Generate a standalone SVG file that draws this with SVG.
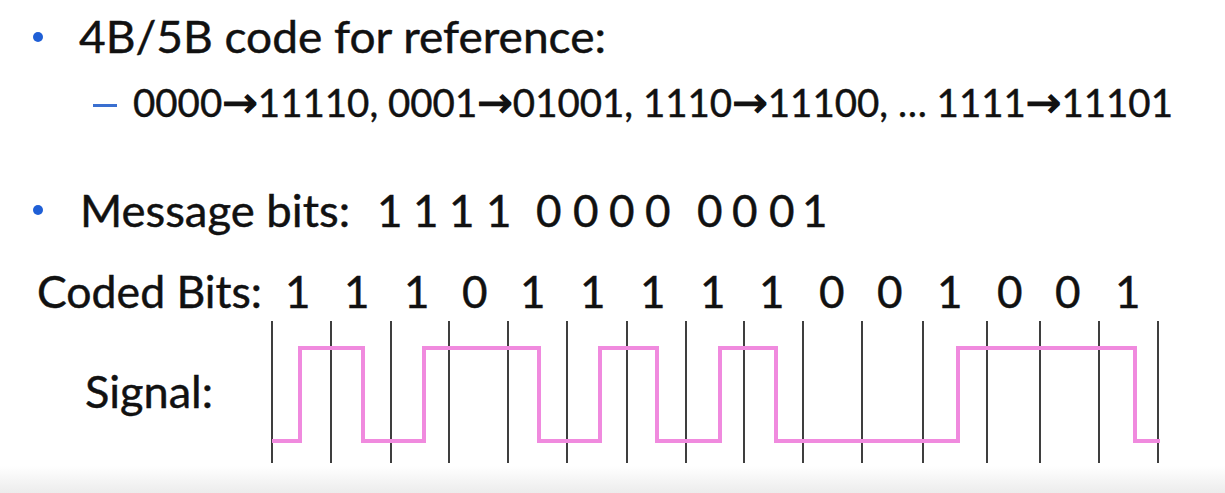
<svg xmlns="http://www.w3.org/2000/svg" width="1225" height="493" viewBox="0 0 1225 493">
<defs>
<linearGradient id="bottomFade" x1="0" y1="0" x2="0" y2="1">
<stop offset="0" stop-color="#ffffff"/>
<stop offset="1" stop-color="#ececec"/>
</linearGradient>
<style>
.t{font-family:Lato,"Liberation Sans","DejaVu Sans",sans-serif;fill:#111;stroke:#111;stroke-width:0.45;}
.big{font-size:44px;}
.mid{font-size:38px;}
.arr{font-family:"DejaVu Sans",sans-serif;font-size:42px;stroke-width:1.2;}
.bul{fill:#1f5fd6;}
.grid line{stroke:#2a2a2a;stroke-width:1.8;}
.sig{fill:none;stroke:#f08ade;stroke-width:4;stroke-linejoin:miter;}
</style>
</defs>
<rect width="1225" height="493" fill="#ffffff"/>
<rect x="0" y="466" width="1225" height="27" fill="url(#bottomFade)"/>

<g id="bullet1">
<circle class="bul" cx="38" cy="37" r="5"/>
<text class="t big" x="79" y="53" textLength="527" lengthAdjust="spacingAndGlyphs">4B/5B code for reference:</text>
</g>
<g id="subbullet">
<rect x="93" y="104" width="24" height="3" fill="#3a6fd0"/>
<text class="t mid" x="133" y="117" textLength="1040" lengthAdjust="spacingAndGlyphs">0000<tspan class="arr">→</tspan>11110, 0001<tspan class="arr">→</tspan>01001, 1110<tspan class="arr">→</tspan>11100, … 1111<tspan class="arr">→</tspan>11101</text>
</g>
<g id="bullet2">
<circle class="bul" cx="38" cy="210" r="5"/>
<text class="t big" y="227"><tspan x="80" textLength="270" lengthAdjust="spacingAndGlyphs">Message bits:</tspan> <tspan x="377">1</tspan> <tspan x="413">1</tspan> <tspan x="449">1</tspan> <tspan x="486">1</tspan>  <tspan x="536">0</tspan> <tspan x="573">0</tspan> <tspan x="609">0</tspan> <tspan x="645">0</tspan>  <tspan x="697">0</tspan> <tspan x="732">0</tspan> <tspan x="769">0</tspan> <tspan x="802">1</tspan></text>
</g>
<g id="coded">
<text class="t big" y="308"><tspan x="37" textLength="225" lengthAdjust="spacingAndGlyphs">Coded Bits:</tspan> <tspan x="285">1</tspan> <tspan x="344">1</tspan> <tspan x="404">1</tspan> <tspan x="462">0</tspan> <tspan x="520">1</tspan> <tspan x="580">1</tspan> <tspan x="640">1</tspan> <tspan x="700">1</tspan> <tspan x="759">1</tspan> <tspan x="819">0</tspan> <tspan x="877">0</tspan> <tspan x="937">1</tspan> <tspan x="997">0</tspan> <tspan x="1055">0</tspan> <tspan x="1115">1</tspan></text>
</g>
<g id="signal-label">
<text class="t big" x="85" y="408" textLength="128" lengthAdjust="spacingAndGlyphs">Signal:</text>
</g>
<g id="connectors">
<g class="grid">
<line x1="272" y1="321" x2="272" y2="463"/>
<line x1="331" y1="321" x2="331" y2="463"/>
<line x1="391" y1="321" x2="391" y2="463"/>
<line x1="449" y1="321" x2="449" y2="463"/>
<line x1="508" y1="321" x2="508" y2="463"/>
<line x1="567" y1="321" x2="567" y2="463"/>
<line x1="627" y1="321" x2="627" y2="463"/>
<line x1="686" y1="321" x2="686" y2="463"/>
<line x1="744" y1="321" x2="744" y2="463"/>
<line x1="803" y1="321" x2="803" y2="463"/>
<line x1="862" y1="321" x2="862" y2="463"/>
<line x1="923" y1="321" x2="923" y2="463"/>
<line x1="987" y1="321" x2="987" y2="463"/>
<line x1="1040" y1="321" x2="1040" y2="463"/>
<line x1="1099" y1="321" x2="1099" y2="463"/>
<line x1="1158" y1="321" x2="1158" y2="463"/>
</g>
<path class="sig" d="M272,441 H300 V348 H363 V441 H424 V348 H539 V441 H600 V348 H657 V441 H720 V348 H776 V441 H958 V348 H1135 V441 H1160"/>
</g>
</svg>
